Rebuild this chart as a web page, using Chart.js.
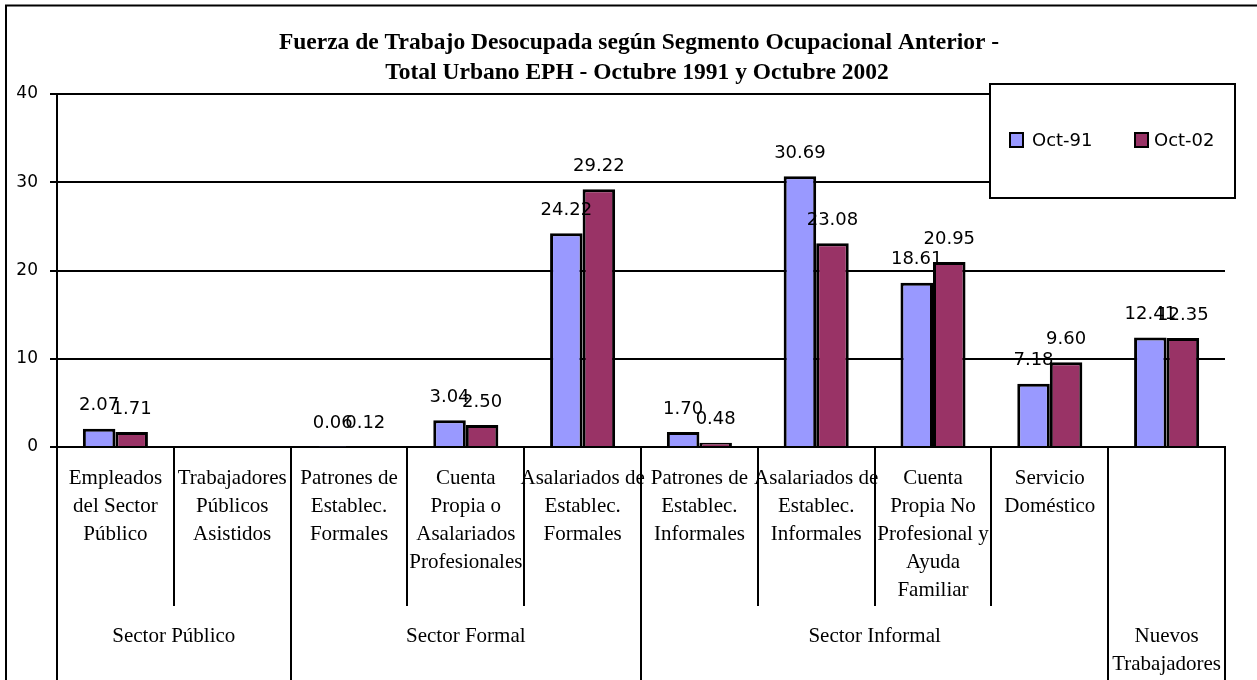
<!DOCTYPE html>
<html>
<head>
<meta charset="utf-8">
<script src="https://cdn.jsdelivr.net/npm/chart.js@4/dist/chart.umd.min.js"></script>
<style>
html,body{margin:0;padding:0;background:#fff;overflow:hidden}
#wrap{width:1257px;height:680px;position:relative}
canvas{display:block}
</style>
</head>
<body>
<div id="wrap"><canvas id="c" width="1257" height="680"></canvas></div>
<script>
// ---- data ----
const titleLines = [
  "Fuerza de Trabajo Desocupada según Segmento Ocupacional Anterior -",
  "Total Urbano EPH - Octubre 1991 y Octubre 2002"
];
const categories = [
  ["Empleados", "del Sector", "Público"],
  ["Trabajadores", "Públicos", "Asistidos"],
  ["Patrones de", "Establec.", "Formales"],
  ["Cuenta", "Propia o", "Asalariados", "Profesionales"],
  ["Asalariados de", "Establec.", "Formales"],
  ["Patrones de", "Establec.", "Informales"],
  ["Asalariados de", "Establec.", "Informales"],
  ["Cuenta", "Propia No", "Profesional y", "Ayuda", "Familiar"],
  ["Servicio", "Doméstico"],
  [""]
];
const groupNames = [["Sector Público"], ["Sector Formal"], ["Sector Informal"], ["Nuevos", "Trabajadores"]];
const groupSpans = [2, 3, 4, 1];
const seriesNames = ["Oct-91", "Oct-02"];
const oct91 = [2.07, null, 0.06, 3.04, 24.22, 1.70, 30.69, 18.61, 7.18, 12.41];
const oct02 = [1.71, null, 0.12, 2.50, 29.22, 0.48, 23.08, 20.95, 9.60, 12.35];
const yTicks = [0, 10, 20, 30, 40];

const seriesColors = ["#9999FF", "#993366"];
const serif = "'Liberation Serif', 'Times New Roman', serif";
const sans = "'DejaVu Sans', sans-serif";

const decorPlugin = {
  id: 'decor',
  afterDraw(chart) {
    const ctx = chart.ctx;
    const xs = chart.scales.x;
    const area = chart.chartArea;
    const half = (xs.getPixelForValue(1) - xs.getPixelForValue(0)) / 2;
    ctx.save();

    // data labels
    ctx.font = "18px " + sans;
    ctx.fillStyle = "#000";
    ctx.textAlign = "center";
    ctx.textBaseline = "middle";
    chart.data.datasets.forEach((ds, di) => {
      const meta = chart.getDatasetMeta(di);
      meta.data.forEach((bar, i) => {
        const v = ds.data[i];
        if (v === null || v === undefined) return;
        ctx.fillText(v.toFixed(2), bar.x, bar.y - 23);
      });
    });

    // separators of category axis
    const groupBounds = new Set([0]);
    let acc = 0;
    groupSpans.forEach(s => { acc += s; groupBounds.add(acc); });
    ctx.strokeStyle = "#000";
    ctx.lineWidth = 2;
    for (let i = 0; i <= categories.length; i++) {
      const x = Math.round(xs.getPixelForValue(i) - half);
      const yEnd = groupBounds.has(i) ? 690 : 606;
      ctx.beginPath();
      ctx.moveTo(x, area.bottom);
      ctx.lineTo(x, yEnd);
      ctx.stroke();
    }

    // group labels
    ctx.font = "21px " + serif;
    let start = 0;
    groupSpans.forEach((s, gi) => {
      const x0 = xs.getPixelForValue(start) - half;
      const x1 = xs.getPixelForValue(start + s - 1) + half;
      const cx = (x0 + x1) / 2;
      groupNames[gi].forEach((line, li) => {
        ctx.fillText(line, cx, 636 + li * 28);
      });
      start += s;
    });

    // title
    ctx.font = "bold 23.5px " + serif;
    ctx.fillText(titleLines[0], 639, 43);
    ctx.fillText(titleLines[1], 637, 73);

    // legend
    ctx.fillStyle = "#fff";
    ctx.fillRect(990, 84, 245, 114);
    ctx.strokeRect(990, 84, 245, 114);
    const items = [{x: 1010, tx: 1032}, {x: 1135, tx: 1154}];
    ctx.font = "18px " + sans;
    ctx.textAlign = "left";
    items.forEach((it, k) => {
      ctx.fillStyle = seriesColors[k];
      ctx.fillRect(it.x, 133, 13, 14);
      ctx.lineWidth = 2;
      ctx.strokeRect(it.x, 133, 13, 14);
      ctx.fillStyle = "#000";
      ctx.fillText(seriesNames[k], it.tx, 141);
    });

    // outer frame
    ctx.lineWidth = 2;
    ctx.strokeRect(6, 5.5, 1400, 800);
    ctx.restore();
  }
};

new Chart(document.getElementById('c'), {
  type: 'bar',
  data: {
    labels: categories,
    datasets: [
      {label: seriesNames[0], data: oct91, backgroundColor: seriesColors[0], borderColor: "#000", borderWidth: 3},
      {label: seriesNames[1], data: oct02, backgroundColor: seriesColors[1], borderColor: "#000", borderWidth: 3}
    ]
  },
  options: {
    responsive: false,
    animation: false,
    devicePixelRatio: 1,
    layout: {padding: {top: 94, right: 32, left: 0, bottom: 0}},
    datasets: {bar: {categoryPercentage: 0.557, barPercentage: 1.0}},
    plugins: {legend: {display: false}, title: {display: false}, tooltip: {enabled: false}},
    scales: {
      x: {
        grid: {display: false, drawTicks: false},
        border: {display: true, color: "#000", width: 2},
        ticks: {
          autoSkip: false, maxRotation: 0, minRotation: 0, padding: 17,
          color: "#000", font: {family: serif, size: 21, lineHeight: 28 / 21}
        },
        afterFit: s => { s.height = 233; }
      },
      y: {
        min: 0, max: 40,
        afterBuildTicks: s => { s.ticks = yTicks.map(v => ({value: v})); },
        grid: {color: "#000", lineWidth: 2, tickLength: 7, drawTicks: true},
        border: {display: true, color: "#000", width: 2},
        ticks: {padding: 12, color: "#000", font: {family: sans, size: 17}},
        afterFit: s => { s.width = 57; }
      }
    }
  },
  plugins: [decorPlugin]
});
</script>
</body>
</html>
